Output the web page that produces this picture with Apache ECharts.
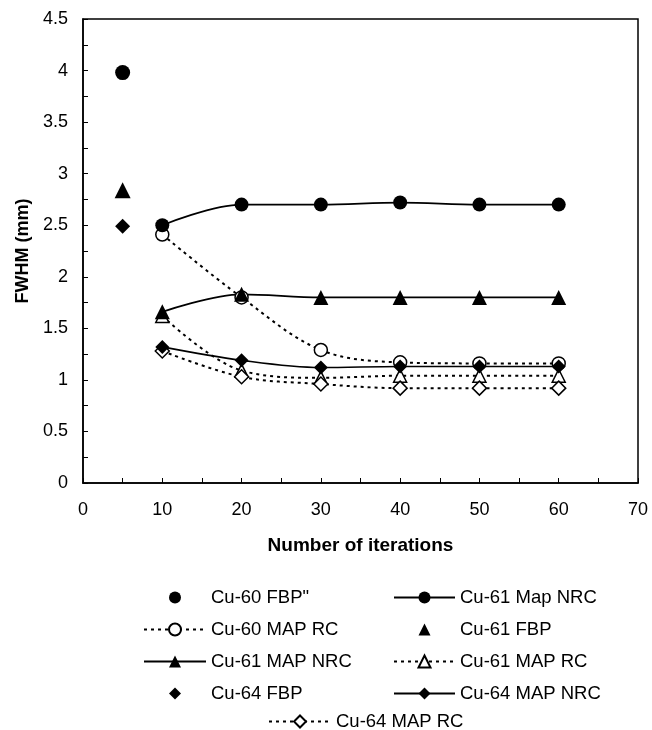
<!DOCTYPE html>
<html>
<head>
<meta charset="utf-8">
<script src="https://cdn.jsdelivr.net/npm/echarts@6/dist/echarts.min.js"></script>
<style>
  html, body { margin: 0; padding: 0; background: #fff; }
  #chart { width: 652px; height: 730px; }
</style>
</head>
<body>
<div id="chart"></div>
<script>
  // iterations on the x axis
  var iterations = [10, 20, 30, 40, 50, 60];
  var fbpIteration = 5;

  // FWHM (mm) values
  var cu60Fbp = 3.98;
  var cu61Fbp = 2.84;
  var cu64Fbp = 2.49;
  var cu61MapNrc = [2.50, 2.70, 2.70, 2.72, 2.70, 2.70];
  var cu60MapRc = [2.41, 1.80, 1.29, 1.17, 1.16, 1.16];
  var cu61MapNrcB = [1.66, 1.83, 1.80, 1.80, 1.80, 1.80];
  var cu61MapRc = [1.62, 1.09, 1.02, 1.04, 1.04, 1.04];
  var cu64MapNrc = [1.32, 1.19, 1.12, 1.13, 1.13, 1.13];
  var cu64MapRc = [1.28, 1.03, 0.96, 0.92, 0.92, 0.92];

  var yTicks = [0, 0.5, 1, 1.5, 2, 2.5, 3, 3.5, 4, 4.5];

  var font = '"Liberation Sans", Arial, Helvetica, sans-serif';
  var dots = [3, 4];

  function pairs(ys) {
    return iterations.map(function (x, i) { return [x, ys[i]]; });
  }

  function lineSeries(name, ys, symbol, size, filled, dotted) {
    return {
      name: name,
      type: 'line',
      data: pairs(ys),
      smooth: 0.35,
      symbol: symbol,
      symbolSize: size,
      showAllSymbol: true,
      lineStyle: { color: '#000', width: dotted ? 2 : 1.7, type: dotted ? dots : 'solid' },
      itemStyle: {
        color: filled ? '#000' : '#fff',
        borderColor: '#000',
        borderWidth: filled ? 0 : 1.5,
        opacity: 1
      }
    };
  }

  // single FBP points: a line series with one point, so the legend icon keeps its shape
  function pointSeries(name, y, symbol, size) {
    return {
      name: name,
      type: 'line',
      data: [[fbpIteration, y]],
      symbol: symbol,
      symbolSize: size,
      lineStyle: { width: 0 },
      itemStyle: { color: '#000', opacity: 1 }
    };
  }

  var legendText = { fontFamily: font, fontSize: 18.5, color: '#000', lineHeight: 18 };
  function noLine(name) { return { name: name, lineStyle: { width: 0, opacity: 0 } }; }

  var chart = echarts.init(document.getElementById('chart'));

  chart.setOption({
    animation: false,
    backgroundColor: '#fff',
    grid: {
      left: 83, right: 14, top: 19, bottom: 247,
      show: true, borderColor: '#000', borderWidth: 1.5
    },
    xAxis: {
      type: 'value',
      min: 0, max: 70, interval: 10,
      name: 'Number of iterations',
      nameLocation: 'middle',
      nameGap: 53,
      nameTextStyle: { fontFamily: font, fontSize: 19, fontWeight: 'bold', color: '#000' },
      axisLine: { lineStyle: { color: '#000', width: 1.5 } },
      axisTick: { inside: true, length: 5, lineStyle: { color: '#000' } },
      minorTick: { show: true, splitNumber: 2, length: 5, lineStyle: { color: '#000' } },
      axisLabel: { margin: 18, fontFamily: font, fontSize: 18, color: '#000' },
      splitLine: { show: false }
    },
    yAxis: {
      type: 'value',
      min: 0, max: 4.5, interval: 0.5,
      name: 'FWHM (mm)',
      nameLocation: 'middle',
      nameGap: 50,
      nameTextStyle: { fontFamily: font, fontSize: 18, fontWeight: 'bold', color: '#000' },
      axisLine: { show: true, lineStyle: { color: '#000', width: 1.5 } },
      axisTick: { show: true, inside: true, length: 5, lineStyle: { color: '#000' } },
      minorTick: { show: true, splitNumber: 2, length: 5, lineStyle: { color: '#000' } },
      axisLabel: {
        margin: 15, fontFamily: font, fontSize: 18, color: '#000',
        formatter: function (v) { return yTicks.indexOf(v) >= 0 ? String(v) : ''; }
      },
      splitLine: { show: false }
    },
    legend: [{
      orient: 'vertical',
      left: 143, top: 588, padding: 0,
      itemWidth: 62, itemHeight: 15, itemGap: 13,
      textStyle: legendText,
      data: [noLine('Cu-60 FBP"'), 'Cu-60 MAP RC', 'Cu-61 MAP NRC', noLine('Cu-64 FBP')]
    }, {
      orient: 'vertical',
      left: 393, top: 588, padding: 0,
      itemWidth: 61, itemHeight: 15, itemGap: 13,
      textStyle: legendText,
      data: ['Cu-61 Map NRC', noLine('Cu-61 FBP'), 'Cu-61 MAP RC', 'Cu-64 MAP NRC']
    }, {
      orient: 'vertical',
      left: 268, top: 712, padding: 0,
      itemWidth: 62, itemHeight: 15,
      textStyle: legendText,
      data: ['Cu-64 MAP RC']
    }],
    series: [
      lineSeries('Cu-60 MAP RC', cu60MapRc, 'circle', 13, false, true),
      lineSeries('Cu-61 MAP RC', cu61MapRc, 'triangle', 13, false, true),
      lineSeries('Cu-64 MAP RC', cu64MapRc, 'diamond', 14, false, true),
      lineSeries('Cu-61 Map NRC', cu61MapNrc, 'circle', 14, true, false),
      lineSeries('Cu-61 MAP NRC', cu61MapNrcB, 'triangle', 15, true, false),
      lineSeries('Cu-64 MAP NRC', cu64MapNrc, 'diamond', 14, true, false),
      pointSeries('Cu-60 FBP"', cu60Fbp, 'circle', 15),
      pointSeries('Cu-61 FBP', cu61Fbp, 'triangle', 16),
      pointSeries('Cu-64 FBP', cu64Fbp, 'diamond', 15)
    ]
  });
</script>
</body>
</html>
